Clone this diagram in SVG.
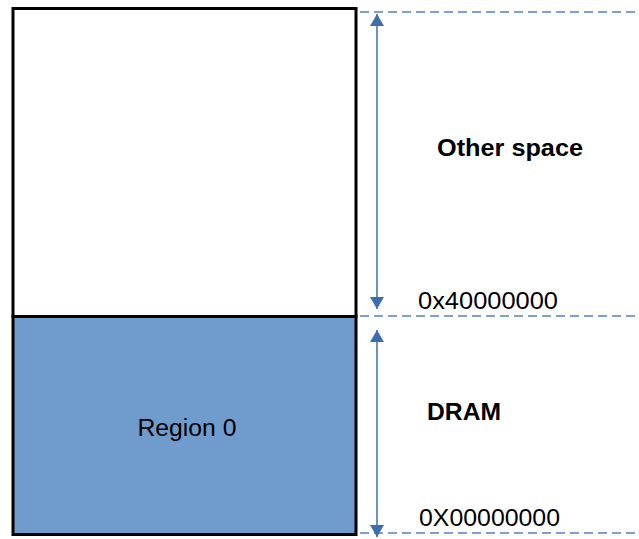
<svg xmlns="http://www.w3.org/2000/svg" width="639" height="539" viewBox="0 0 639 539">
<defs>
<style>
.box{stroke:#000;stroke-width:3}
.dash{stroke:#7fa0cc;stroke-width:2;stroke-dasharray:9 5;fill:none}
.arr{stroke:#3d6dac;stroke-width:1.5;fill:none}
.t{font-family:"Liberation Sans",Arial,sans-serif;font-size:23px;fill:#000}
.b{font-weight:bold}
</style>
<marker id="ah" viewBox="0 0 12 14" refX="12" refY="7" markerWidth="12" markerHeight="14" markerUnits="userSpaceOnUse" orient="auto">
<path d="M0,0 L12,7 L0,14 Z" fill="#3d6dac"/>
</marker>
</defs>
<g id="other-space">
<rect x="13" y="8.5" width="343" height="308" fill="#fff" class="box"/>
</g>
<g id="region0">
<rect x="13" y="316.5" width="343" height="218" fill="#6f9ccc" class="box"/>
<text class="t" x="187" y="436" text-anchor="middle" textLength="99" lengthAdjust="spacingAndGlyphs">Region 0</text>
</g>
<g id="connectors">
<line class="dash" x1="360" y1="12" x2="639" y2="12"/>
<line class="dash" x1="360" y1="316" x2="639" y2="316"/>
<line class="dash" x1="360" y1="533" x2="639" y2="533"/>
<line class="arr" x1="377" y1="160" x2="377" y2="14" marker-end="url(#ah)"/>
<line class="arr" x1="377" y1="160" x2="377" y2="309" marker-end="url(#ah)"/>
<line class="arr" x1="377" y1="430" x2="377" y2="330" marker-end="url(#ah)"/>
<line class="arr" x1="377" y1="430" x2="377" y2="537" marker-end="url(#ah)"/>
</g>
<g id="labels">
<text class="t b" x="437" y="156" textLength="146" lengthAdjust="spacingAndGlyphs">Other space</text>
<text class="t" x="418" y="309" textLength="140" lengthAdjust="spacingAndGlyphs">0x40000000</text>
<text class="t b" x="427" y="420" textLength="74" lengthAdjust="spacingAndGlyphs">DRAM</text>
<text class="t" x="419" y="526" textLength="141" lengthAdjust="spacingAndGlyphs">0X00000000</text>
</g>
</svg>
